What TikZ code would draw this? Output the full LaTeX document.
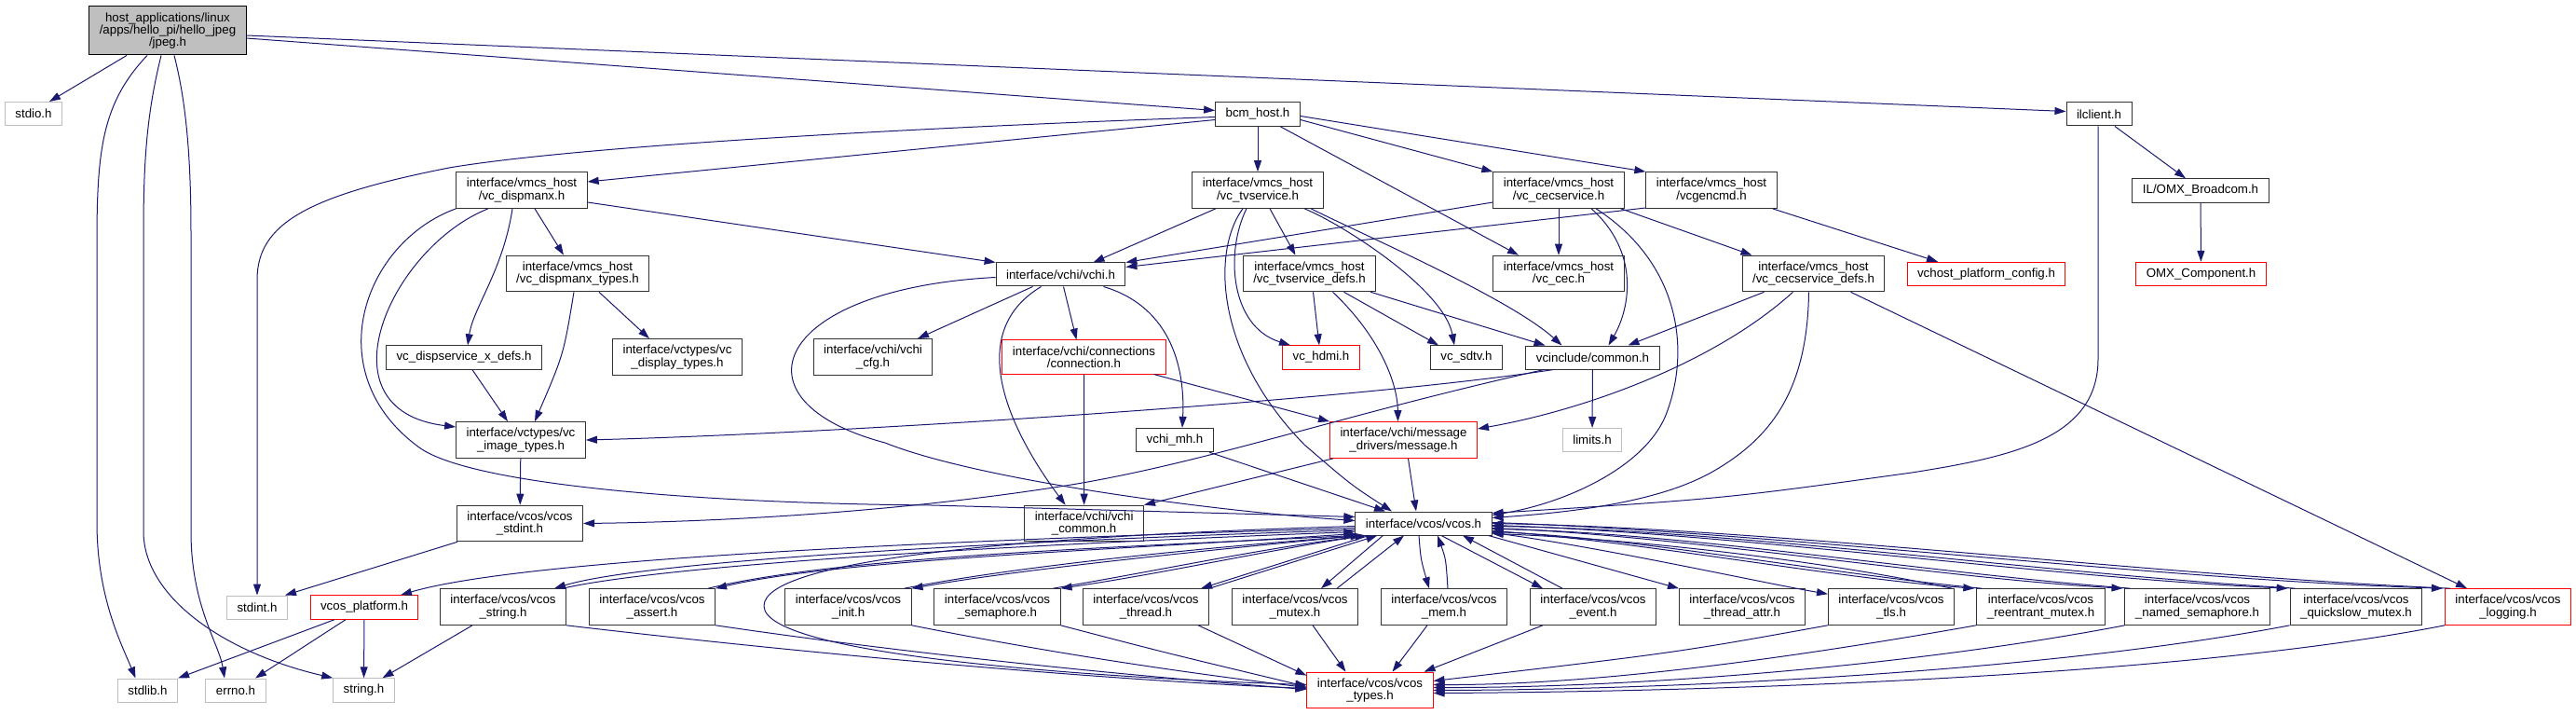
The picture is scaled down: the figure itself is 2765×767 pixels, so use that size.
\documentclass[tikz,border=0pt]{standalone}
\usepackage{fontspec}
\setmainfont{Liberation Sans}
\usepackage{xcolor}
\usetikzlibrary{arrows.meta}

\definecolor{edgeblue}{HTML}{191970}
\definecolor{sysgray}{HTML}{BFBFBF}
\definecolor{truncred}{HTML}{FF0000}

\begin{document}
\begin{tikzpicture}[
    x=1pt, y=-1pt,
    file/.style={rectangle, draw=black!80, fill=white, line width=1pt, align=center,
        inner xsep=11pt, inner ysep=6.5pt, minimum height=25pt,
        font=\fontsize{13.3}{13.3}\selectfont},
    root/.style={file, draw=black, fill=sysgray},
    sys/.style={file, draw=sysgray},
    trunc/.style={file, draw=truncred},
    arr/.style={draw=edgeblue, line width=1pt, -{Triangle[length=12pt,width=8pt]}},
]
\useasboundingbox (0,0) rectangle (2765,767);

% row 0-1
\node[root] (jpeg) at (180,33) {host\_applications/linux\\/apps/hello\_pi/hello\_jpeg\\/jpeg.h};
\node[sys] (stdio) at (36,122) {stdio.h};
\node[file] (bcmhost) at (1350,122.5) {bcm\_host.h};
\node[file] (ilclient) at (2253,122.5) {ilclient.h};

% row 2
\node[file] (dispmanx) at (560,204) {interface/vmcs\_host\\/vc\_dispmanx.h};
\node[file] (tvservice) at (1350,204) {interface/vmcs\_host\\/vc\_tvservice.h};
\node[file] (cecservice) at (1673,204) {interface/vmcs\_host\\/vc\_cecservice.h};
\node[file] (vcgencmd) at (1837,204) {interface/vmcs\_host\\/vcgencmd.h};
\node[file] (omxbroadcom) at (2362,204.5) {IL/OMX\_Broadcom.h};

% row 3
\node[file] (dispmanxtypes) at (620,293.5) {interface/vmcs\_host\\/vc\_dispmanx\_types.h};
\node[file] (vchi) at (1138.5,294.5) {interface/vchi/vchi.h};
\node[file] (tvservicedefs) at (1405.5,293.5) {interface/vmcs\_host\\/vc\_tvservice\_defs.h};
\node[file] (vccec) at (1673,293.5) {interface/vmcs\_host\\/vc\_cec.h};
\node[file] (cecservicedefs) at (1946.5,293.5) {interface/vmcs\_host\\/vc\_cecservice\_defs.h};
\node[trunc] (platformconfig) at (2132,294) {vchost\_platform\_config.h};
\node[trunc] (omxcomponent) at (2362.5,294) {OMX\_Component.h};

% row 4
\node[file] (dispservice) at (498,383.5) {vc\_dispservice\_x\_defs.h};
\node[file] (displaytypes) at (727,383) {interface/vctypes/vc\\\_display\_types.h};
\node[file] (vchicfg) at (937,383) {interface/vchi/vchi\\\_cfg.h};
\node[trunc] (connection) at (1163.5,383) {interface/vchi/connections\\/connection.h};
\node[trunc] (vchdmi) at (1418,383.5) {vc\_hdmi.h};
\node[file] (vcsdtv) at (1574,383.5) {vc\_sdtv.h};
\node[file] (common) at (1709.5,383.5) {vcinclude/common.h};

% row 5
\node[file] (imagetypes) at (559,472) {interface/vctypes/vc\\\_image\_types.h};
\node[file] (vchimh) at (1261,472) {vchi\_mh.h};
\node[trunc] (message) at (1506.5,472) {interface/vchi/message\\\_drivers/message.h};
\node[sys] (limits) at (1709,472) {limits.h};

% row 6
\node[file] (vcosstdint) at (558,561.5) {interface/vcos/vcos\\\_stdint.h};
\node[file] (vchicommon) at (1163.6,561.5) {interface/vchi/vchi\\\_common.h};
\node[file] (vcos) at (1528,561.5) {interface/vcos/vcos.h};

% row 7
\node[sys] (stdint) at (276,651.5) {stdint.h};
\node[trunc] (vcosplatform) at (391,651.5) {vcos\_platform.h};
\node[file] (vcosstring) at (540,651) {interface/vcos/vcos\\\_string.h};
\node[file] (vcosassert) at (700,651) {interface/vcos/vcos\\\_assert.h};
\node[file] (vcosinit) at (910.5,651) {interface/vcos/vcos\\\_init.h};
\node[file] (vcossemaphore) at (1070.5,651) {interface/vcos/vcos\\\_semaphore.h};
\node[file] (vcosthread) at (1230,651) {interface/vcos/vcos\\\_thread.h};
\node[file] (vcosmutex) at (1390,651) {interface/vcos/vcos\\\_mutex.h};
\node[file] (vcosmem) at (1550,651) {interface/vcos/vcos\\\_mem.h};
\node[file] (vcosevent) at (1710,651) {interface/vcos/vcos\\\_event.h};
\node[file] (vcosthreadattr) at (1870,651) {interface/vcos/vcos\\\_thread\_attr.h};
\node[file] (vcostls) at (2030,651) {interface/vcos/vcos\\\_tls.h};
\node[file] (vcosreentrant) at (2190.5,651) {interface/vcos/vcos\\\_reentrant\_mutex.h};
\node[file] (vcosnamedsem) at (2358.5,651) {interface/vcos/vcos\\\_named\_semaphore.h};
\node[file] (vcosquickslow) at (2529,651) {interface/vcos/vcos\\\_quickslow\_mutex.h};
\node[trunc] (vcoslogging) at (2692,651) {interface/vcos/vcos\\\_logging.h};

% row 8
\node[sys] (stdlib) at (158.5,740.5) {stdlib.h};
\node[sys] (errno) at (253,740.5) {errno.h};
\node[sys] (stringh) at (390.5,740.5) {string.h};
\node[trunc] (vcostypes) at (1470.5,740.5) {interface/vcos/vcos\\\_types.h};

% jpeg.h
\draw[arr] ([xshift=-44pt]jpeg.south) -- ([xshift=17pt]stdio.north);
\draw[arr] ([xshift=-22pt]jpeg.south) .. controls (110,110) and (104,160) .. (104,260) -- (104,560) .. controls (104,640) and (130,690) .. ([xshift=-13pt]stdlib.north);
\draw[arr] ([xshift=-7pt]jpeg.south) .. controls (158,120) and (154,170) .. (154,250) -- (154,570) .. controls (154,640) and (240,700) .. (stringh.north west);
\draw[arr] ([xshift=7pt]jpeg.south) .. controls (200,110) and (205,170) .. (205,250) -- (205,570) .. controls (205,650) and (235,690) .. ([xshift=-12pt]errno.north);
\draw[arr] ([yshift=-8pt]jpeg.east) -- ([yshift=4pt]bcmhost.west);
\draw[arr] ([yshift=-5pt]jpeg.east) -- ([yshift=3pt]ilclient.west);

% bcm_host.h
\draw[arr] ([yshift=-3pt]bcmhost.west) .. controls (900,140) and (600,160) .. (482,180) .. controls (330,210) and (276,240) .. (276,300) -- (stdint.north);
\draw[arr] ([yshift=-6pt]bcmhost.west) -- ([yshift=9pt]dispmanx.east);
\draw[arr] (bcmhost) -- (tvservice);
\draw[arr] ([yshift=-6pt]bcmhost.east) -- (cecservice.north west);
\draw[arr] ([yshift=-2pt]bcmhost.east) -- (vcgencmd.north west);
\draw[arr] ([xshift=24pt]bcmhost.south) -- ([xshift=-43pt]vccec.north);

% ilclient.h
\draw[arr] ([xshift=17pt]ilclient.south) -- ([xshift=-16pt]omxbroadcom.north);
\draw[arr] ([xshift=-1pt]ilclient.south) -- (2252,385) .. controls (2252,470) and (2160,490) .. (2052,507) .. controls (1850,535) .. ([yshift=11pt]vcos.east);
\draw[arr] (omxbroadcom) -- (omxcomponent);

% vc_dispmanx.h
\draw[arr] ([yshift=-13pt]dispmanx.east) -- (vchi.north west);
\draw[arr] ([xshift=14pt]dispmanx.south) -- ([xshift=-15pt]dispmanxtypes.north);
\draw[arr] ([xshift=-10pt]dispmanx.south) .. controls (540,290) and (508,330) .. ([xshift=4pt]dispservice.north);
\draw[arr] ([xshift=-36pt]dispmanx.south) .. controls (420,265) and (340,440) .. ([yshift=14pt]imagetypes.west);
\draw[arr] (dispmanx.south west) .. controls (390,260) and (340,400) .. (450,480) .. controls (505,520) and (750,540) .. (1000,542) -- ([yshift=7pt]vcos.west);

% vc_dispmanx_types.h, vc_dispservice_x_defs.h, vc_image_types.h
\draw[arr] ([xshift=23pt]dispmanxtypes.south) -- ([xshift=-30pt]displaytypes.north);
\draw[arr] ([xshift=-4pt]dispmanxtypes.south) .. controls (605,380) .. ([xshift=15pt]imagetypes.north);
\draw[arr] ([xshift=9pt]dispservice.south) -- ([xshift=-14pt]imagetypes.north);
\draw[arr] (imagetypes) -- (vcosstdint);
\draw[arr] ([xshift=1pt]vcosstdint.south west) -- ([xshift=30pt]stdint.north);

% vc_tvservice.h
\draw[arr] ([xshift=-45pt]tvservice.south) -- ([xshift=35pt]vchi.north);
\draw[arr] ([xshift=13pt]tvservice.south) -- ([xshift=-15pt]tvservicedefs.north);
\draw[arr] ([xshift=-12pt]tvservice.south) .. controls (1315,270) and (1320,350) .. ([xshift=-33pt]vchdmi.north);
\draw[arr] ([xshift=-16pt]tvservice.south) .. controls (1300,270) and (1305,380) .. (1400,477) .. controls (1450,520) .. ([xshift=-34pt]vcos.north);
\draw[arr] ([xshift=50pt]tvservice.south) .. controls (1440,240) and (1550,310) .. ([xshift=-13pt]vcsdtv.north);
\draw[arr] ([xshift=57pt]tvservice.south) .. controls (1470,255) and (1620,320) .. ([xshift=-33pt]common.north);

% vc_cecservice.h
\draw[arr] ([yshift=-13pt]cecservice.west) -- (vchi.north east);
\draw[arr] (cecservice) -- (vccec);
\draw[arr] ([xshift=35pt]cecservice.south) .. controls (1760,270) and (1750,330) .. ([xshift=17pt]common.north);
\draw[arr] ([xshift=40pt]cecservice.south) .. controls (1800,280) and (1815,370) .. (1790,440) .. controls (1770,500) and (1680,540) .. ([yshift=9pt]vcos.east);
\draw[arr] ([xshift=-4pt]cecservice.south east) -- ([xshift=-66pt]cecservicedefs.north);

% vcgencmd.h
\draw[arr] ([yshift=-19pt]vcgencmd.west) -- ([yshift=8pt]vchi.east);
\draw[arr] ([xshift=-5pt]vcgencmd.south east) -- ([xshift=-52pt]platformconfig.north);

% vc_tvservice_defs.h
\draw[arr] ([xshift=4pt]tvservicedefs.south) -- ([xshift=-2pt]vchdmi.north);
\draw[arr] ([xshift=37pt]tvservicedefs.south) -- ([xshift=-30pt]vcsdtv.north);
\draw[arr] ([xshift=-6pt]tvservicedefs.south east) -- ([xshift=-51pt]common.north);
\draw[arr] ([xshift=25pt]tvservicedefs.south) .. controls (1480,360) and (1500,410) .. ([xshift=-6pt]message.north);

% vc_cecservice_defs.h
\draw[arr] ([xshift=-53pt]cecservicedefs.south) -- ([xshift=38pt]common.north);
\draw[arr] ([xshift=-22pt]cecservicedefs.south) .. controls (1840,390) and (1700,440) .. ([yshift=12pt]message.east);
\draw[arr] ([xshift=-5pt]cecservicedefs.south) .. controls (1940,420) and (1900,470) .. (1840,505) .. controls (1780,540) and (1680,550) .. ([yshift=6pt]vcos.east);
\draw[arr] ([xshift=40pt]cecservicedefs.south) -- ([xshift=-44pt]vcoslogging.north);

% vcinclude/common.h
\draw[arr] (common) -- (limits);
\draw[arr] ([xshift=-42pt]common.south) .. controls (1450,430) and (900,465) .. (imagetypes.east);
\draw[arr] ([xshift=-52pt]common.south) .. controls (1440,445) and (1300,495) .. (1150,520) .. controls (950,552) and (750,560) .. (vcosstdint.east);

% interface/vchi/vchi.h
\draw[arr] ([xshift=-30pt]vchi.south) -- ([xshift=48pt]vchicfg.north);
\draw[arr] ([xshift=3pt]vchi.south) -- ([xshift=-8pt]connection.north);
\draw[arr] ([xshift=46pt]vchi.south) .. controls (1260,330) and (1272,400) .. ([xshift=8pt]vchimh.north);
\draw[arr] ([xshift=-21pt]vchi.south) .. controls (1030,360) and (1090,470) .. ([xshift=-20pt]vchicommon.north);
\draw[arr] ([yshift=-3pt]vchi.west) .. controls (830,310) and (780,430) .. (950,475) .. controls (1050,515) and (1300,548) .. ([yshift=3pt]vcos.west);

% connection.h, vchi_mh.h, message.h
\draw[arr] (connection) -- (vchicommon);
\draw[arr] ([xshift=75pt]connection.south) -- (message.north west);
\draw[arr] ([xshift=37pt]vchimh.south) -- ([xshift=-41pt]vcos.north);
\draw[arr] ([xshift=4pt]message.south west) -- (vchicommon.north east);
\draw[arr] ([xshift=5pt]message.south) -- ([xshift=-8pt]vcos.north);

% interface/vcos/vcos.h, left side
\draw[arr] ([yshift=-5pt]vcos.west) .. controls (1000,580) and (560,600) .. ([xshift=39pt]vcosplatform.north);
\draw[arr] ([yshift=-7pt]vcos.west) .. controls (1100,580) and (700,600) .. ([xshift=55pt]vcosstring.north);
\draw[arr] ([xshift=64pt]vcosstring.north) .. controls (720,605) and (1100,584) .. ([yshift=-9pt]vcos.west);
\draw[arr] ([yshift=-11pt]vcos.west) .. controls (1200,590) and (900,600) .. (vcosassert.north east);
\draw[arr] ([xshift=-8pt]vcosassert.north east) .. controls (900,597) and (1200,587) .. (vcos.south west);
\draw[arr] ([xshift=4pt]vcos.south west) .. controls (1300,590) and (1100,610) .. (vcosinit.north east);
\draw[arr] ([xshift=-8pt]vcosinit.north east) .. controls (1100,606) and (1300,587) .. ([xshift=7pt]vcos.south west);
\draw[arr] ([xshift=10pt]vcos.south west) .. controls (1350,592) and (1250,615) .. (vcossemaphore.north east);
\draw[arr] ([xshift=-8pt]vcossemaphore.north east) .. controls (1250,611) and (1350,589) .. ([xshift=12pt]vcos.south west);
\draw[arr] ([xshift=15pt]vcos.south west) -- ([xshift=-9pt]vcosthread.north east);
\draw[arr] (vcosthread.north east) -- ([xshift=24pt]vcos.south west);
\draw[arr] ([xshift=30pt]vcos.south west) -- ([xshift=28pt]vcosmutex.north);
\draw[arr] ([xshift=45pt]vcosmutex.north) -- ([xshift=-21pt]vcos.south);

% interface/vcos/vcos.h, right side
\draw[arr] ([xshift=-5pt]vcos.south) .. controls (1525,600) .. ([xshift=-16pt]vcosmem.north);
\draw[arr] ([xshift=4pt]vcosmem.north) .. controls (1552,600) .. ([xshift=15pt]vcos.south);
\draw[arr] ([xshift=19pt]vcos.south) -- ([xshift=-54pt]vcosevent.north);
\draw[arr] ([xshift=-33pt]vcosevent.north) -- ([xshift=42pt]vcos.south);
\draw[arr] ([xshift=-4pt]vcos.south east) -- (vcosthreadattr.north west);
\draw[arr] ([yshift=-10pt]vcos.east) .. controls (1710,585) and (1890,625) .. ([yshift=-6pt]vcostls.north west);
\draw[arr] ([xshift=-3pt]vcostls.north east) .. controls (1950,600) and (1750,578) .. ([yshift=-11pt]vcos.east);
\draw[arr] ([yshift=-8pt]vcos.east) .. controls (1758,580) and (1966,620) .. ([xshift=-2pt]vcosreentrant.north west);
\draw[arr] ([xshift=6pt]vcosreentrant.north west) .. controls (1966,616) and (1758,577) .. ([yshift=-9pt]vcos.east);
\draw[arr] ([yshift=-5pt]vcos.east) .. controls (1806,574) and (2078,620) .. ([xshift=-2pt]vcosnamedsem.north west);
\draw[arr] ([xshift=6pt]vcosnamedsem.north west) .. controls (2078,616) and (1806,571) .. ([yshift=-6pt]vcos.east);
\draw[arr] ([yshift=-2pt]vcos.east) .. controls (1858,571) and (2201,620) .. ([xshift=-2pt]vcosquickslow.north west);
\draw[arr] ([xshift=6pt]vcosquickslow.north west) .. controls (2201,616) and (1858,568) .. ([yshift=-3pt]vcos.east);
\draw[arr] ([yshift=1pt]vcos.east) .. controls (1908,571) and (2317,622) .. ([xshift=-2pt]vcoslogging.north west);
\draw[arr] ([xshift=6pt]vcoslogging.north west) .. controls (2317,618) and (1908,567) .. (vcos.east);
\draw[arr] ([yshift=-3pt]vcos.west) .. controls (1100,575) and (820,600) .. (820,650) .. controls (820,705) and (1200,728) .. ([yshift=6pt]vcostypes.west);

% into interface/vcos/vcos_types.h
\draw[arr] (vcosstring.south east) .. controls (900,705) and (1200,730) .. ([yshift=2pt]vcostypes.west);
\draw[arr] (vcosassert.south east) .. controls (1000,705) and (1250,728) .. ([yshift=1pt]vcostypes.west);
\draw[arr] (vcosinit.south east) .. controls (1150,705) and (1300,725) .. ([yshift=3pt]vcostypes.west);
\draw[arr] (vcossemaphore.south east) .. controls (1250,700) .. ([yshift=4pt]vcostypes.west);
\draw[arr] ([xshift=-12pt]vcosthread.south east) -- ([yshift=-4pt]vcostypes.north west);
\draw[arr] ([xshift=19pt]vcosmutex.south) -- ([xshift=-26pt]vcostypes.north);
\draw[arr] ([xshift=-18pt]vcosmem.south) -- ([xshift=24pt]vcostypes.north);
\draw[arr] ([xshift=-54pt]vcosevent.south) -- ([xshift=-10pt]vcostypes.north east);
\draw[arr] (vcostls.south west) .. controls (1800,700) .. ([yshift=10pt]vcostypes.east);
\draw[arr] (vcosreentrant.south west) .. controls (1900,710) and (1700,735) .. ([yshift=6pt]vcostypes.east);
\draw[arr] (vcosnamedsem.south west) .. controls (2050,715) and (1750,738) .. ([yshift=3pt]vcostypes.east);
\draw[arr] (vcosquickslow.south west) .. controls (2200,720) and (1800,740) .. (vcostypes.east);
\draw[arr] (vcoslogging.south west) .. controls (2350,725) and (1850,742) .. ([yshift=-3pt]vcostypes.east);

% system headers at the bottom
\draw[arr] ([xshift=-32pt]vcosplatform.south) -- (stdlib.north east);
\draw[arr] ([xshift=-20pt]vcosplatform.south) -- ([xshift=21pt]errno.north);
\draw[arr] (vcosplatform) -- (stringh);
\draw[arr] ([xshift=-33pt]vcosstring.south) -- ([xshift=20pt]stringh.north);
\end{tikzpicture}
\end{document}
